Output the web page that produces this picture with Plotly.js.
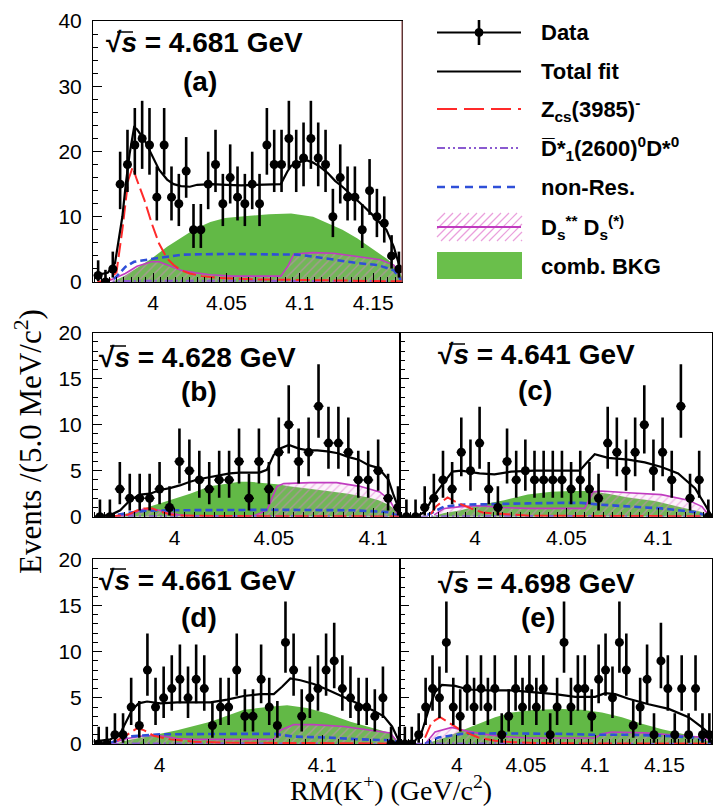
<!DOCTYPE html>
<html><head><meta charset="utf-8">
<script src="https://cdn.plot.ly/plotly-3.0.1.min.js"></script>
<style>html,body{margin:0;padding:0;background:#fff}#plot{width:715px;height:809px}</style>
</head><body><div id="plot"></div>
<script>
// ================= DATA =================
const binLow = 3.96, binWidth = 0.005;   // histogram binning (GeV)
const countsA = [1,0,2,15,18,21,22,21,13,21,13,12,17,8,8,15,18,12,16,13,12,15,12,21,18,18,22,18,19,22,19,18,10,16,13,13,8,14,10,9,4,2];
const countsB = [0,0,3,2,2,2,3,1,6,5,4,3,4,4,6,2,6,3,7,10,6,7,12,8,8,7,4,4,5,2,1];
const countsC = [0,0,1,2,4,3,7,5,8,3,1,6,4,5,4,4,4,4,3,4,3,2,8,7,5,7,10,5,7,4,12,2,4,0];
const countsD = [0,0,1,1,4,2,8,4,5,6,7,5,7,6,2,4,4,8,3,3,7,4,2,11,8,3,5,6,8,9,6,5,4,4,3,5,0,0];
const countsE = [0,0,1,4,6,5,11,4,3,6,4,6,4,6,1,3,6,4,6,4,6,1,4,11,4,6,6,3,7,8,5,11,8,2,4,7,1,9,6,1,6,1,6,1,1];

// ---- panel (a) sqrt(s)=4.681 ----
const totA_x = [3.9595,3.969,3.974,3.979,3.9814,3.984,3.987,3.989,3.994,3.999,4.004,4.0095,4.014,4.019,4.025,4.03,4.04,4.05,4.06,4.07,4.08,4.087,4.0914,4.094,4.099,4.104,4.109,4.114,4.119,4.124,4.129,4.134,4.139,4.144,4.149,4.154,4.159,4.164,4.168,4.1696];
const totA_y = [1.0,1.4,2.9,10,15.1,19.7,23.7,23.4,21.8,19.5,17.2,15.7,15.0,14.7,14.6,14.9,15.0,14.9,14.8,14.9,14.9,15.0,16.9,17.8,18.3,18.7,18.3,17.6,16.7,15.5,14.6,13.6,12.6,11.5,10.4,9.2,8.0,5.4,2.3,1.5];
const zcsA_x = [3.962,3.97,3.975,3.979,3.983,3.986,3.989,3.994,3.999,4.004,4.0095,4.014,4.019,4.025,4.033,4.045,4.07,4.1,4.14,4.1696];
const zcsA_y = [0.0,0.3,1.5,8,15.6,17.6,15.6,12.6,9.0,5.9,3.6,2.6,1.8,1.3,0.9,0.6,0.4,0.3,0.2,0.1];
const bkgA_x = [3.972,3.981,3.99,3.999,4.0095,4.019,4.029,4.039,4.049,4.064,4.079,4.094,4.109,4.119,4.129,4.139,4.149,4.159,4.166,4.1696];
const bkgA_y = [0,1.0,2.3,3.6,5.4,6.7,8.2,9.2,9.8,10.1,10.4,10.5,10.0,9.0,8.0,6.7,5.2,3.6,2.3,0.8];
const nrA_x = [3.966,3.974,3.981,3.987,4.001,4.01,4.02,4.05,4.08,4.098,4.109,4.123,4.139,4.153,4.164,4.168,4.1696];
const nrA_y = [0,0.6,2.3,3.1,3.6,3.9,4.2,4.3,4.3,4.2,3.9,3.4,2.9,2.6,1.8,0.6,0];
const dsA_x = [3.968,3.981,3.989,3.999,4.004,4.0095,4.019,4.029,4.039,4.054,4.064,4.087,4.092,4.096,4.109,4.123,4.139,4.155,4.164,4.168,4.1696];
const dsA_y = [0,1.3,2.4,3.1,3.1,2.6,1.8,1.4,1.1,0.9,0.9,0.9,2.5,4.3,4.5,4.4,3.9,3.4,2.6,0.8,0];
const d1A_x = [3.965,3.98,4.0,4.05,4.1,4.15,4.1696];
const d1A_y = [0,0.15,0.2,0.2,0.2,0.15,0];

// ---- panel (b) sqrt(s)=4.628 ----
const totB_x = [3.9596,3.968,3.9727,3.9777,3.9827,3.9877,3.9927,3.9977,4.0027,4.0078,4.0128,4.0178,4.0228,4.0278,4.0328,4.0378,4.0428,4.0465,4.0499,4.0529,4.0576,4.0626,4.0676,4.0719,4.0769,4.0823,4.0873,4.0927,4.0977,4.1027,4.1077,4.11,4.1127,4.1135];
const totB_y = [0.0,0.2,0.7,1.8,2.4,2.5,2.9,3.1,3.4,3.8,4.1,4.3,4.5,4.7,4.8,4.8,4.8,5.1,6.7,7.4,7.8,7.4,7.2,7.2,7.1,6.9,6.5,6.2,5.6,5.3,4.0,2.5,1.1,0.5];
const zcsB_x = [3.966,3.9764,3.9814,3.9847,3.9889,3.993,3.998,4.0048,4.05,4.1135];
const zcsB_y = [0,0.2,0.7,0.9,0.9,0.55,0.25,0.1,0.05,0.03];
const bkgB_x = [3.966,3.9777,3.9877,3.9977,4.0078,4.0178,4.0278,4.0328,4.0378,4.0428,4.0529,4.0576,4.0676,4.0769,4.0873,4.0977,4.1027,4.1077,4.1127,4.1135];
const bkgB_y = [0,0.4,1.1,1.8,2.5,3.3,3.6,3.8,3.8,3.7,3.5,3.3,3.0,2.8,2.5,2.1,1.8,1.3,0.5,0];
const nrB_x = [3.966,3.9764,3.986,4.0,4.05,4.09,4.1077,4.1135];
const nrB_y = [0,0.4,0.65,0.7,0.75,0.7,0.5,0];
const dsB_x = [3.966,3.9777,3.984,3.99,3.9983,4.002,4.01,4.04,4.0465,4.0516,4.055,4.0683,4.0816,4.0933,4.1033,4.1083,4.1117,4.1135];
const dsB_y = [0,0.2,0.8,0.8,0.4,0.2,0.1,0.1,0.7,3.3,3.6,3.7,3.7,3.3,2.7,1.8,0.5,0];
const d1B_x = [3.966,3.98,4.05,4.1,4.1135];
const d1B_y = [0,0.05,0.08,0.05,0];

// ---- panel (c) sqrt(s)=4.641 ----
const totC_x = [3.9585,3.9677,3.9726,3.9773,3.9825,3.9876,3.9923,4.0025,4.0106,4.0197,4.0325,4.0471,4.0572,4.0608,4.0654,4.0727,4.0837,4.0928,4.1019,4.111,4.1202,4.1257,4.1295];
const totC_y = [0,0.05,0.5,2.2,3.6,4.9,5.0,4.7,4.6,4.9,5.0,5.0,5.0,5.8,6.8,6.4,6.2,5.9,5.4,4.7,3.1,1.3,0];
const zcsC_x = [3.9759,3.9786,3.985,3.9878,3.9905,3.9978,4.0042,4.0106,4.0197,4.03,4.1295];
const zcsC_y = [0.3,1.1,2.1,1.8,1.5,0.9,0.45,0.35,0.2,0.1,0.05];
const bkgC_x = [3.9759,3.9832,3.9923,4.0033,4.016,4.0288,4.0417,4.0526,4.0617,4.0727,4.0837,4.0983,4.113,4.124,4.1284];
const bkgC_y = [0,0.4,0.7,1.3,1.8,2.4,2.7,2.8,2.8,2.5,2.1,1.7,1.0,0.5,0];
const nrC_x = [3.974,3.9832,3.9923,4.0106,4.0288,4.0471,4.0581,4.069,4.0837,4.1019,4.1202,4.1284];
const nrC_y = [0.2,1.1,1.3,1.4,1.45,1.5,1.5,1.3,1.1,0.9,0.5,0];
const dsC_x = [3.9777,3.9832,3.9923,4.0033,4.0142,4.0288,4.0471,4.0599,4.0645,4.069,4.0837,4.1019,4.1165,4.124,4.1284];
const dsC_y = [0.2,0.9,1.1,1.2,1.0,0.9,0.9,0.9,2.7,2.8,2.6,2.4,1.8,1.1,0];
const d1C_x = [3.97,3.98,4.05,4.1,4.1284];
const d1C_y = [0,0.05,0.08,0.05,0];

// ---- panel (d) sqrt(s)=4.661 ----
const totD_x = [3.9594,3.9697,3.9759,3.98,3.9831,3.9871,3.9923,4.0005,4.0108,4.021,4.0313,4.0416,4.0518,4.0621,4.0703,4.0754,4.0805,4.0867,4.0949,4.1031,4.1134,4.1236,4.1318,4.138,4.1431,4.1472,4.148];
const totD_y = [0.25,0.5,1.2,2.6,3.7,4.4,4.6,4.4,4.5,4.5,4.5,4.8,5.2,5.4,5.4,6.2,7.1,6.9,6.5,5.9,5.1,4.3,3.6,3.0,1.9,0.4,0];
const zcsD_x = [3.9738,3.98,3.9861,3.9902,3.9964,4.0066,4.021,4.0416,4.148];
const zcsD_y = [0.4,1.0,1.7,1.5,0.9,0.5,0.25,0.15,0.05];
const bkgD_x = [3.9718,3.98,3.9923,4.0108,4.0313,4.0518,4.0662,4.0785,4.0908,4.1031,4.1175,4.1318,4.1421,4.1462,4.148];
const bkgD_y = [0,0.4,0.8,1.5,2.4,3.7,4.0,4.2,3.9,3.3,2.4,1.7,1.2,0.4,0];
const nrD_x = [3.9697,3.98,4.0005,4.021,4.0518,4.0703,4.0826,4.1031,4.1236,4.144,4.148];
const nrD_y = [0.1,0.8,1.05,1.1,1.1,1.1,0.8,0.7,0.5,0.4,0];
const dsD_x = [3.9697,3.98,3.9902,4.0005,4.0108,4.021,4.0703,4.0744,4.0826,4.0949,4.1134,4.1318,4.1421,4.1462,4.148];
const dsD_y = [0.05,0.6,0.9,0.9,0.6,0.5,0.5,1.5,2.1,2.1,1.9,1.5,1.2,0.25,0];
const d1D_x = [3.97,3.98,4.05,4.1,4.148];
const d1D_y = [0,0.05,0.08,0.05,0];

// ---- panel (e) sqrt(s)=4.698 ----
const totE_x = [3.9595,3.9699,3.9747,3.9795,3.9843,3.9892,3.9988,4.0084,4.0229,4.0398,4.0566,4.0711,4.0856,4.1,4.1073,4.1145,4.1241,4.1386,4.1531,4.1675,4.1772,4.1819,4.1844];
const totE_y = [0.1,0.35,1.3,3.6,5.6,6.4,6.3,5.9,5.8,5.8,5.6,5.4,5.1,5.1,5.5,5.4,4.9,4.3,3.8,2.9,1.8,1.2,0];
const zcsE_x = [3.9771,3.9819,3.988,3.994,4.0036,4.0156,4.0277,4.0398,4.06,4.1,4.1844];
const zcsE_y = [0.7,2.35,2.9,2.35,1.45,0.7,0.35,0.2,0.1,0.05,0.05];
const bkgE_x = [3.9771,3.9916,4.0036,4.0156,4.0277,4.0398,4.0566,4.0759,4.0904,4.1049,4.1193,4.1338,4.1483,4.1627,4.1772,4.1844];
const bkgE_y = [0,0.7,1.45,2.2,2.9,3.4,3.7,3.8,3.7,3.4,2.9,2.2,1.6,1.1,0.7,0];
const nrE_x = [3.9771,3.9867,4.0036,4.0277,4.0759,4.1,4.1241,4.1483,4.1723,4.1844];
const nrE_y = [0,0.7,1.1,1.15,1.1,1.0,1.0,0.9,0.7,0];
const dsE_x = [3.9771,3.9843,3.9964,4.006,4.0181,4.0349,4.0518,4.1,4.1049,4.1121,4.1362,4.1603,4.1796,4.1844];
const dsE_y = [0,1.3,1.8,1.45,1.1,0.8,0.65,0.65,1.1,1.3,1.2,0.9,0.7,0];
const d1E_x = [3.97,3.98,4.05,4.1,4.1844];
const d1E_y = [0,0.05,0.08,0.05,0];

// axis ranges and tick labels
const xRangeA = [3.959, 4.1696], xRangeB = [3.959, 4.1135], xRangeC = [3.959, 4.1295], xRangeD = [3.959, 4.148], xRangeE = [3.959, 4.1844];
const xTickA = [4, 4.05, 4.1, 4.15], xTickTextA = ['4','4.05','4.1','4.15'];
const xTickB = [4, 4.05, 4.1], xTickTextB = ['4','4.05','4.1'];
const xTickD = [4, 4.1], xTickTextD = ['4','4.1'];
const yTickA = [0,10,20,30,40], yTickTextA = ['0','10','20','30','40'];
const yTickB = [0,5,10,15,20], yTickTextB = ['0','5','10','15','20'];
const energyLabels = ['4.681','4.628','4.641','4.661','4.698'];
const panelLetters = ['(a)','(b)','(c)','(d)','(e)'];
const legendNames = ['Data','Total fit','Z<sub>cs</sub>(3985)<sup>-</sup>','D\u0305*<sub>1</sub>(2600)<sup>0</sup>D*<sup>0</sup>','non-Res.','D<sub>s</sub><sup>**</sup> D<sub>s</sub><sup>(*)</sup>','comb. BKG'];

// ================= STYLE / LAYOUT =================
const W = 715, H = 809;
const PX = x => x / W, PY = y => 1 - y / H;
const GREEN = '#62b946', RED = '#ff2a2a', BLUE = '#2f4fd8', PURPLE = '#8a5ad0', MAG = '#c03cc0', HATCH = '#e27ad4';
const FONT = 'Liberation Sans, Arial, sans-serif';
const SERIF = 'Liberation Serif, Times New Roman, serif';

const panels = [
  {xa:'x', ya:'y', box:[93,402,21,282], counts:countsA, xr:xRangeA, yr:[0,40], xt:xTickA, xtt:xTickTextA, yt:yTickA, ytt:yTickTextA, ylab:true, xminor:0.005, yminor:2,
   tot:[totA_x,totA_y], zcs:[zcsA_x,zcsA_y], bkg:[bkgA_x,bkgA_y], nr:[nrA_x,nrA_y], ds:[dsA_x,dsA_y], d1:[d1A_x,d1A_y],
   lab:[104,43], let:[200,82]},
  {xa:'x2', ya:'y2', box:[93,400,332.7,516.7], counts:countsB, xr:xRangeB, yr:[0,20], xt:xTickB, xtt:xTickTextB, yt:yTickB, ytt:yTickTextB, ylab:true, xminor:0.005, yminor:1,
   tot:[totB_x,totB_y], zcs:[zcsB_x,zcsB_y], bkg:[bkgB_x,bkgB_y], nr:[nrB_x,nrB_y], ds:[dsB_x,dsB_y], d1:[d1B_x,d1B_y],
   lab:[97,357], let:[199,392]},
  {xa:'x3', ya:'y3', box:[400,712,332.7,516.7], counts:countsC, xr:xRangeC, yr:[0,20], xt:xTickB, xtt:xTickTextB, yt:yTickB, ytt:yTickTextB, ylab:false, xminor:0.005, yminor:1,
   tot:[totC_x,totC_y], zcs:[zcsC_x,zcsC_y], bkg:[bkgC_x,bkgC_y], nr:[nrC_x,nrC_y], ds:[dsC_x,dsC_y], d1:[d1C_x,d1C_y],
   lab:[436,355], let:[535,390]},
  {xa:'x4', ya:'y4', box:[93,400,559.3,744], counts:countsD, xr:xRangeD, yr:[0,20], xt:xTickD, xtt:xTickTextD, yt:yTickB, ytt:yTickTextB, ylab:true, xminor:0.01, yminor:1,
   tot:[totD_x,totD_y], zcs:[zcsD_x,zcsD_y], bkg:[bkgD_x,bkgD_y], nr:[nrD_x,nrD_y], ds:[dsD_x,dsD_y], d1:[d1D_x,d1D_y],
   lab:[97,580], let:[199,617]},
  {xa:'x5', ya:'y5', box:[400,712,559.3,744], counts:countsE, xr:xRangeE, yr:[0,20], xt:xTickA, xtt:xTickTextA, yt:yTickB, ytt:yTickTextB, ylab:false, xminor:0.005, yminor:1,
   tot:[totE_x,totE_y], zcs:[zcsE_x,zcsE_y], bkg:[bkgE_x,bkgE_y], nr:[nrE_x,nrE_y], ds:[dsE_x,dsE_y], d1:[d1E_x,d1E_y],
   lab:[436,583], let:[538,617]}
];

const traces = [];
const layout = {
  width: W, height: H, margin:{l:0,r:0,t:0,b:0}, paper_bgcolor:'#fff', plot_bgcolor:'rgba(0,0,0,0)',
  showlegend:false, font:{family:FONT, color:'#000'}, annotations:[], shapes:[]
};

panels.forEach((p, i) => {
  const n = i === 0 ? '' : String(i + 1);
  const [x0, x1, y0, y1] = p.box;
  layout['xaxis' + n] = {
    domain:[PX(x0), PX(x1)], range:p.xr, anchor:p.ya, showline:true, linecolor:'#000', linewidth:1, mirror:true,
    ticks:'inside', ticklen:9, tickwidth:1, tickcolor:'#000', tickmode:'array', tickvals:p.xt, ticktext:p.xtt,
    minor:{tickmode:'linear', tick0:4, dtick:p.xminor, ticks:'inside', ticklen:5, tickwidth:1, tickcolor:'#000', showgrid:false},
    showgrid:false, zeroline:false, tickfont:{family:FONT, size:21, color:'#000'}, ticklabelstandoff:2, fixedrange:true
  };
  layout['yaxis' + n] = {
    domain:[PY(y1), PY(y0)], range:p.yr, anchor:p.xa, showline:true, linecolor:'#000', linewidth:1, mirror:true,
    ticks:'inside', ticklen:9, tickwidth:1, tickcolor:'#000', tickmode:'array', tickvals:p.yt, ticktext:p.ytt, showticklabels:p.ylab,
    minor:{tickmode:'linear', tick0:0, dtick:p.yminor, ticks:'inside', ticklen:5, tickwidth:1, tickcolor:'#000', showgrid:false},
    showgrid:false, zeroline:false, tickfont:{family:FONT, size:21, color:'#000'}, ticklabelstandoff:6, fixedrange:true
  };
  const ax = {xaxis:p.xa, yaxis:p.ya, hoverinfo:'skip'};
  traces.push(Object.assign({type:'scatter', mode:'lines', x:p.bkg[0], y:p.bkg[1], fill:'tozeroy', fillcolor:GREEN, line:{width:0, color:GREEN}}, ax));
  traces.push(Object.assign({type:'scatter', mode:'lines', x:p.ds[0], y:p.ds[1], fill:'tozeroy', fillcolor:'rgba(235,160,225,0.12)',
    fillpattern:{shape:'/', fgcolor:HATCH, fillmode:'overlay', size:6, solidity:0.22},
    line:{width:1.6, color:MAG}}, ax));
  traces.push(Object.assign({type:'scatter', mode:'lines', x:p.nr[0], y:p.nr[1], line:{width:2.6, color:BLUE, dash:'7px,4px'}}, ax));
  traces.push(Object.assign({type:'scatter', mode:'lines', x:p.d1[0], y:p.d1[1], line:{width:2, color:PURPLE, dash:'8px,3px,2px,3px,2px,3px'}}, ax));
  traces.push(Object.assign({type:'scatter', mode:'lines', x:p.zcs[0], y:p.zcs[1], line:{width:2, color:RED, dash:'14px,5px'}}, ax));
  traces.push(Object.assign({type:'scatter', mode:'lines', x:p.tot[0], y:p.tot[1], line:{width:2.2, color:'#000'}}, ax));
  const xs = p.counts.map((_, k) => binLow + binWidth * (k + 0.5));
  traces.push(Object.assign({type:'scatter', mode:'markers', x:xs, y:p.counts,
    marker:{color:'#000', size:9, symbol:'circle'},
    error_y:{type:'data', symmetric:false, array:p.counts.map(v => 1 + Math.sqrt(v + 0.75)), arrayminus:p.counts.map(v => v > 0 ? Math.sqrt(v - 0.25) : 0), color:'#000', thickness:2.6, width:0},
    error_x:{type:'constant', value:binWidth/2, color:'#000', thickness:1.5, width:0}, cliponaxis:true}, ax));

  // panel labels
  layout.annotations.push({xref:'paper', yref:'paper', x:PX(p.lab[0]), y:PY(p.lab[1]), xanchor:'left', yanchor:'middle', showarrow:false,
    text:'\u221A<i>s</i> = ' + energyLabels[i] + ' GeV', font:{family:FONT, size:28, weight:'bold', color:'#000'}});
  // vinculum of the square root over "s"
  layout.shapes.push({type:'line', xref:'paper', yref:'paper', x0:PX(p.lab[0] + 13), x1:PX(p.lab[0] + 29), y0:PY(p.lab[1] - 11), y1:PY(p.lab[1] - 11), line:{color:'#000', width:1.5}});
  layout.annotations.push({xref:'paper', yref:'paper', x:PX(p.let[0]), y:PY(p.let[1]), xanchor:'center', yanchor:'middle', showarrow:false,
    text:panelLetters[i], font:{family:FONT, size:28, weight:'bold', color:'#000'}});
});

// brownish right frame edge of panel (a)
layout.shapes.push({type:'line', xref:'paper', yref:'paper', x0:PX(402), x1:PX(402), y0:PY(21), y1:PY(282), line:{color:'#9a5a5a', width:1.2}});

// axis titles
layout.annotations.push({xref:'paper', yref:'paper', x:PX(391), y:PY(788), xanchor:'center', yanchor:'middle', showarrow:false,
  text:'RM(K<sup>+</sup>) (GeV/c<sup>2</sup>)', font:{family:SERIF, size:28, color:'#000'}});
layout.annotations.push({xref:'paper', yref:'paper', x:PX(28), y:PY(442), xanchor:'center', yanchor:'middle', showarrow:false, textangle:-90,
  text:'Events /(5.0 MeV/c<sup>2</sup>)', font:{family:SERIF, size:31, color:'#000'}});

// ---- legend (drawn manually) ----
const LX0 = 437, LX1 = 521, LT = 539;
const legY = [32.5, 71.5, 109, 148, 187, 227, 266];
function hline(y, color, width, dash){ layout.shapes.push({type:'line', xref:'paper', yref:'paper', x0:PX(LX0), x1:PX(LX1), y0:PY(y), y1:PY(y), line:{color:color, width:width, dash:dash||'solid'}}); }
hline(legY[0], '#000', 2);
layout.shapes.push({type:'line', xref:'paper', yref:'paper', x0:PX(479), x1:PX(479), y0:PY(20), y1:PY(45), line:{color:'#000', width:2.6}});
layout.shapes.push({type:'circle', xref:'paper', yref:'paper', x0:PX(475), x1:PX(483), y0:PY(legY[0]+4), y1:PY(legY[0]-4), fillcolor:'#000', line:{color:'#000', width:1}});
hline(legY[1], '#000', 2.2);
hline(legY[2], RED, 2, '20px,7px');
hline(legY[3], PURPLE, 2, '8px,3px,2px,3px,2px,3px');
hline(legY[4], BLUE, 2.6, '8px,6px');
// hatched box
(function(){
  const bx0 = 437, bx1 = 522, by0 = 213, by1 = 241, s = 8;
  for (let c = bx0 + by0; c <= bx1 + by1; c += s) {
    const xa = Math.max(bx0, c - by1), xb = Math.min(bx1, c - by0);
    if (xb > xa) layout.shapes.push({type:'line', xref:'paper', yref:'paper', x0:PX(xa), y0:PY(c - xa), x1:PX(xb), y1:PY(c - xb), line:{color:'#eaa0dc', width:1.2}});
  }
})();
hline(legY[5], MAG, 2.2);
layout.shapes.push({type:'rect', xref:'paper', yref:'paper', x0:PX(437), x1:PX(522), y0:PY(279), y1:PY(252), fillcolor:'#6abf4b', line:{width:0}});
legendNames.forEach((t, k) => {
  layout.annotations.push({xref:'paper', yref:'paper', x:PX(LT), y:PY(legY[k]), xanchor:'left', yanchor:'middle', showarrow:false,
    text:t, font:{family:FONT, size:22, weight:'bold', color:'#000'}});
});

Plotly.newPlot('plot', traces, layout, {displayModeBar:false, staticPlot:true});
</script>
</body></html>
